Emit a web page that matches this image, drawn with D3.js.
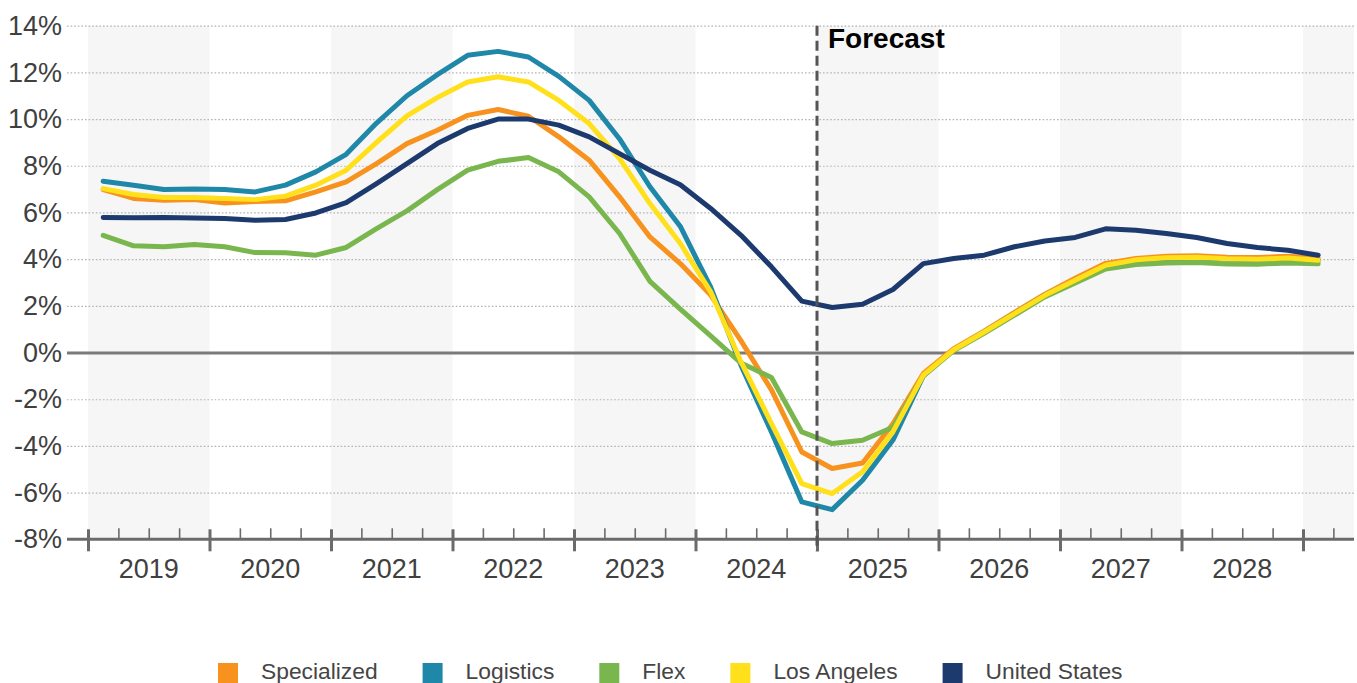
<!DOCTYPE html>
<html>
<head>
<meta charset="utf-8">
<script src="https://cdn.jsdelivr.net/npm/d3@7"></script>
<style>
  html, body { margin: 0; padding: 0; background: #fff; }
  svg { display: block; font-family: "Liberation Sans", Arial, sans-serif; }
</style>
</head>
<body>
<svg id="chart" width="1357" height="683"></svg>
<script>
// Year-over-year rent growth, quarterly, 2019 Q1 – 2029 Q1
const years = [2019, 2020, 2021, 2022, 2023, 2024, 2025, 2026, 2027, 2028];
const quarterNames = ["Q1", "Q2", "Q3", "Q4"];
const forecastStart = 2025;

const yTicks = [-8, -6, -4, -2, 0, 2, 4, 6, 8, 10, 12, 14];

const specialized = [
  6.98, 6.60, 6.52, 6.55, 6.41, 6.47, 6.50, 6.88,
  7.31, 8.09, 8.95, 9.52, 10.16, 10.41, 10.12, 9.24,
  8.24, 6.67, 4.95, 3.81, 2.46, 0.50, -1.60, -4.26,
  -4.97, -4.73, -3.05, -0.90, 0.17, 0.92, 1.72, 2.50,
  3.18, 3.82, 4.03, 4.12, 4.15, 4.08, 4.07, 4.12,
  4.04
];
const logistics = [
  7.34, 7.17, 6.98, 7.00, 6.98, 6.88, 7.17, 7.74,
  8.49, 9.83, 11.00, 11.90, 12.73, 12.90, 12.66, 11.83,
  10.80, 9.15, 7.10, 5.40, 2.80, -0.55, -3.40, -6.40,
  -6.73, -5.47, -3.75, -1.00, 0.10, 0.88, 1.67, 2.45,
  3.08, 3.70, 3.93, 4.03, 4.05, 4.00, 3.98, 4.03,
  3.93
];
const flex = [
  5.02, 4.57, 4.53, 4.63, 4.53, 4.28, 4.27, 4.17,
  4.50, 5.31, 6.07, 6.98, 7.81, 8.19, 8.35, 7.74,
  6.67, 5.10, 3.05, 1.86, 0.71, -0.45, -1.07, -3.40,
  -3.90, -3.76, -3.20, -1.00, 0.08, 0.82, 1.60, 2.38,
  2.98, 3.58, 3.77, 3.84, 3.86, 3.79, 3.78, 3.84,
  3.80
];
const losAngeles = [
  7.02, 6.77, 6.64, 6.64, 6.60, 6.55, 6.70, 7.17,
  7.81, 9.00, 10.14, 10.92, 11.59, 11.81, 11.59, 10.80,
  9.81, 8.31, 6.38, 4.67, 2.60, -0.40, -3.04, -5.61,
  -6.04, -5.11, -3.40, -0.97, 0.12, 0.88, 1.67, 2.45,
  3.10, 3.74, 3.97, 4.06, 4.08, 4.02, 4.00, 4.05,
  3.95
];
const unitedStates = [
  5.78, 5.77, 5.78, 5.76, 5.74, 5.67, 5.70, 5.98,
  6.42, 7.24, 8.09, 8.95, 9.60, 10.00, 10.00, 9.74,
  9.24, 8.52, 7.81, 7.19, 6.17, 5.02, 3.67, 2.20,
  1.93, 2.07, 2.70, 3.81, 4.03, 4.17, 4.53, 4.78,
  4.93, 5.30, 5.24, 5.10, 4.93, 4.67, 4.50, 4.38,
  4.17
];

const seriesNames = ["Specialized", "Logistics", "Flex", "Los Angeles", "United States"];
const seriesColors = ["#F7921E", "#1F87A8", "#7AB64E", "#FFE01A", "#1D3A6E"];
const seriesValues = [specialized, logistics, flex, losAngeles, unitedStates];

// Quarter keys: "2019 Q1" ... "2029 Q1"
const periods = [...years, 2029]
  .flatMap(yr => quarterNames.map(q => ({ year: yr, q: quarterNames.indexOf(q), key: `${yr} ${q}` })))
  .slice(0, specialized.length);

const svg = d3.select("#chart");

const gridLeft = 67, plotRight = 1354;
const x = d3.scaleLinear().domain([2019, 2029]).range([88, 1303]);
const y = d3.scaleLinear().domain([-8, 14]).range([539.3, 25.7]);
const xPeriod = p => x(p.year + (p.q + 0.5) / 4);

// Alternating year bands
const bandYears = [...years, 2029].filter((yr, i) => i % 2 === 0);
svg.append("g").selectAll("rect").data(bandYears).join("rect")
  .attr("x", d => x(d))
  .attr("width", d => Math.min(x(d + 1), plotRight) - x(d))
  .attr("y", y(14))
  .attr("height", y(-8) - y(14))
  .attr("fill", "#f6f6f6");

// Horizontal grid + percent labels
const yAxis = d3.axisLeft(y)
  .tickValues(yTicks)
  .tickFormat(d => d + "%")
  .tickSize(0)
  .tickPadding(0);
const gy = svg.append("g").attr("transform", `translate(${gridLeft},0)`).call(yAxis);
gy.select(".domain").remove();
gy.selectAll(".tick text")
  .attr("x", -5)
  .attr("dy", "0.32em")
  .attr("font-size", 27)
  .attr("font-family", "Liberation Sans, Arial, sans-serif")
  .attr("fill", "#404040");
gy.selectAll(".tick").each(function(d) {
  const t = d3.select(this);
  const line = t.select("line").attr("x1", 0).attr("x2", plotRight - gridLeft);
  if (d === 0) {
    line.attr("stroke", "#7a7a7a").attr("stroke-width", 3);
  } else if (d === -8) {
    line.remove();
  } else {
    line.attr("stroke", "#b4b4b4").attr("stroke-width", 1.2).attr("stroke-dasharray", "1.6,2");
  }
});

// Series lines
const line = d3.line()
  .x((d, i) => xPeriod(periods[i]))
  .y(d => y(d));

svg.append("g").selectAll("path").data(seriesValues).join("path")
  .attr("d", d => line(d))
  .attr("fill", "none")
  .attr("stroke", (d, i) => seriesColors[i])
  .attr("stroke-width", 5)
  .attr("stroke-linejoin", "round")
  .attr("stroke-linecap", "round");

// Bottom axis: year boundaries (major) and quarter marks (minor)
const axisY = y(-8);
const gx = svg.append("g").attr("transform", `translate(0,${axisY})`);
gx.append("line")
  .attr("x1", gridLeft).attr("x2", plotRight)
  .attr("stroke", "#6b6b6b").attr("stroke-width", 3);

const yearBounds = [...years, 2029];
const minorTicks = yearBounds.flatMap(yr => [0.25, 0.5, 0.75].map(f => yr + f))
  .filter(v => x(v) < plotRight);

const majorAxis = d3.axisBottom(x).tickValues(yearBounds).tickSize(0).tickFormat("");
const gMajor = gx.append("g").call(majorAxis);
gMajor.select(".domain").remove();
gMajor.selectAll(".tick line")
  .attr("y1", -10).attr("y2", 12)
  .attr("stroke", "#6b6b6b").attr("stroke-width", 3);

const minorAxis = d3.axisBottom(x).tickValues(minorTicks).tickSize(0).tickFormat("");
const gMinor = gx.append("g").call(minorAxis);
gMinor.select(".domain").remove();
gMinor.selectAll(".tick line")
  .attr("y1", -11).attr("y2", 0)
  .attr("stroke", "#6b6b6b").attr("stroke-width", 1.6);

// Year labels centred in each year
svg.append("g").selectAll("text").data(years).join("text")
  .attr("x", d => x(d + 0.5))
  .attr("y", 578)
  .attr("text-anchor", "middle")
  .attr("font-size", 27)
  .attr("fill", "#404040")
  .text(d => d);

// Forecast divider
svg.append("line")
  .attr("x1", x(forecastStart)).attr("x2", x(forecastStart))
  .attr("y1", y(14)).attr("y2", axisY + 12)
  .attr("stroke", "#555").attr("stroke-width", 3)
  .attr("stroke-dasharray", "10,5");
svg.append("text")
  .attr("x", x(forecastStart) + 11)
  .attr("y", 48)
  .attr("font-size", 28)
  .attr("font-weight", "bold")
  .attr("fill", "#000")
  .text("Forecast");

// Legend
const legend = svg.append("g");
let lx = 218;
seriesNames.forEach((name, i) => {
  legend.append("rect")
    .attr("x", lx).attr("y", 663)
    .attr("width", 20).attr("height", 20)
    .attr("fill", seriesColors[i]);
  const t = legend.append("text")
    .attr("x", lx + 43).attr("y", 679)
    .attr("font-size", 22.8)
    .attr("fill", "#454545")
    .text(name);
  lx += 43 + t.node().getComputedTextLength() + 45;
});
</script>
</body>
</html>
